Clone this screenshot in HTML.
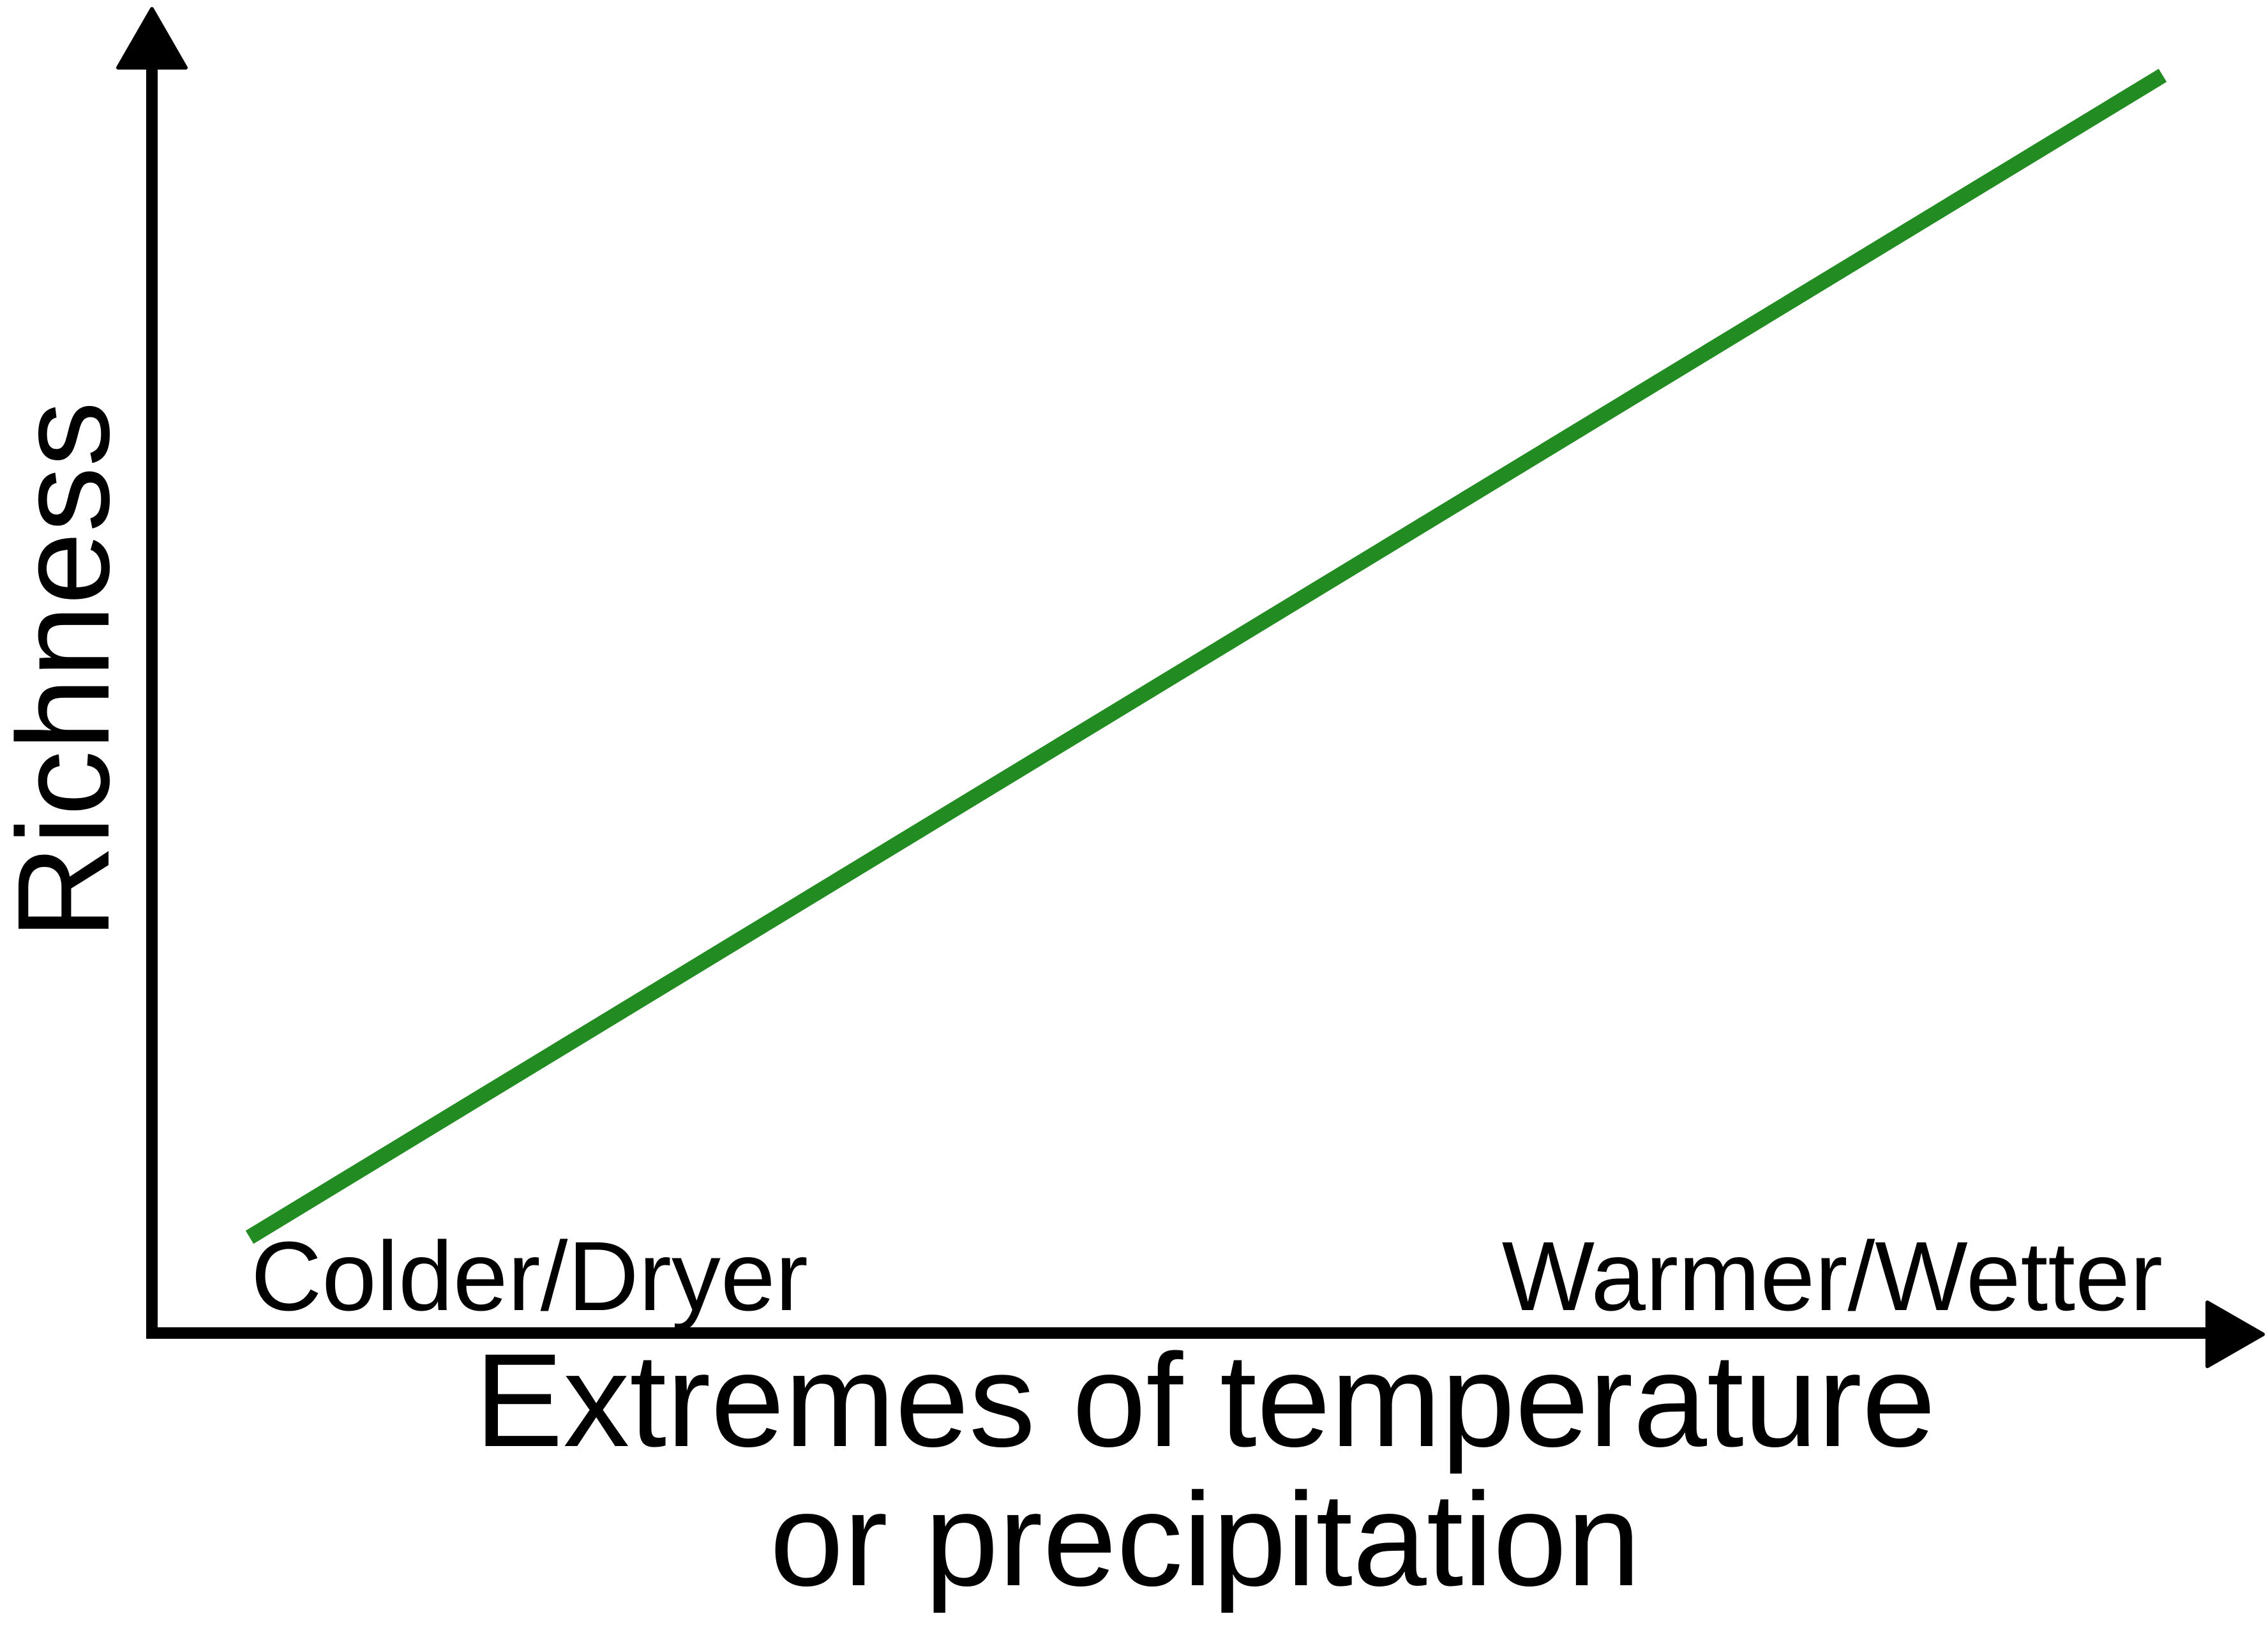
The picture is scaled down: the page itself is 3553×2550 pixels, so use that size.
<!DOCTYPE html>
<html><head><meta charset="utf-8"><style>
html,body{margin:0;padding:0;background:#fff;}
svg{display:block;}
text{font-family:"Liberation Sans",Arial,sans-serif;fill:#000;}
</style></head>
<body>
<svg id="chart" width="3553" height="2550" viewBox="0 0 3553 2550" xmlns="http://www.w3.org/2000/svg">
  <rect x="0" y="0" width="3553" height="2550" fill="#fff"/>
  <g id="marks"></g>
  <line x1="238" y1="100" x2="238" y2="2097" stroke="#000" stroke-width="18"/>
  <path d="M238 14 L291 106 L185 106 Z" fill="#000" stroke="#000" stroke-width="6" stroke-linejoin="round"/>
  <line x1="229" y1="2088" x2="3460" y2="2088" stroke="#000" stroke-width="18"/>
  <path d="M3545 2090 L3458 2040 L3458 2140 Z" fill="#000" stroke="#000" stroke-width="6" stroke-linejoin="round"/>
  <text x="393" y="2052" font-size="154">Colder/Dryer</text>
  <text x="3388" y="2052" font-size="154" text-anchor="end">Warmer/Wetter</text>
  <text x="1888" y="2265" font-size="208" text-anchor="middle">Extremes of temperature</text>
  <text x="1888" y="2483" font-size="208" text-anchor="middle">or precipitation</text>
  <text x="0" y="0" font-size="205" text-anchor="middle" transform="translate(170,1050) rotate(-90)">Richness</text>
</svg>
<script>
const positions = [0, 1];
const richness = [0.075, 0.985];

function xScale(v){ return 391 + v * (3388 - 391); }
function yScale(v){ return 2088 - v * 2000; }

const g = document.getElementById('marks');
const NS = 'http://www.w3.org/2000/svg';
const line = document.createElementNS(NS, 'polyline');


line.setAttribute('points', positions.map((p, i) => xScale(p) + ',' + yScale(richness[i])).join(' '));
line.setAttribute('fill', 'none');
line.setAttribute('stroke', '#228b22');
line.setAttribute('stroke-width', '24');
g.appendChild(line);
</script>
</body></html>
